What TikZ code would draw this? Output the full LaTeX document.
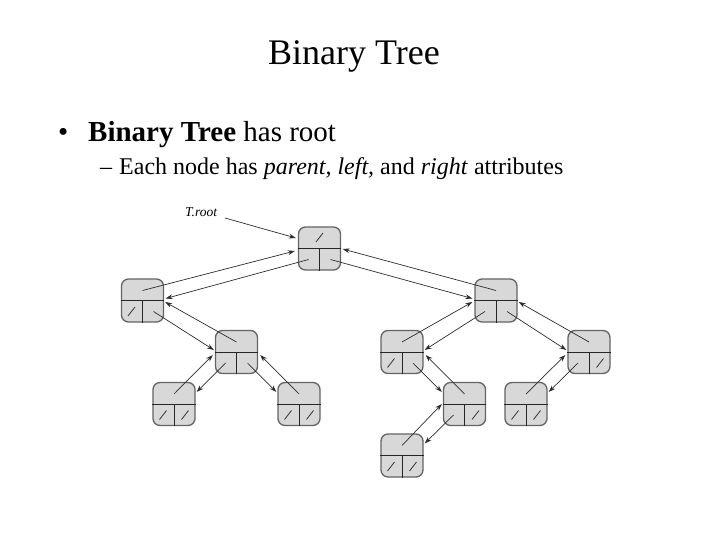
\documentclass[tikz,border=0pt]{standalone}
\usepackage{fontspec}
\setmainfont{Liberation Serif}
\usetikzlibrary{arrows.meta,calc}
\definecolor{nodefill}{RGB}{216,216,216}
\definecolor{nodeborder}{RGB}{100,100,100}
\definecolor{ptrcol}{RGB}{45,45,45}
\newcommand\nilat[1]{\draw[nilline] ($(#1)+(-3.5,4.5)$) -- ($(#1)+(3.5,-4.5)$);}
\begin{document}
\begin{tikzpicture}[x=1pt,y=-1pt,
  tnode/.style={draw=nodeborder, fill=nodefill, line width=1.3pt, rounded corners=7pt,
    minimum width=42pt, minimum height=43pt, inner sep=0pt},
  divider/.style={draw=black!85, line width=0.9pt},
  ptr/.style={draw=ptrcol, line width=0.7pt, -{Stealth[length=7pt,width=4.8pt]}},
  nilline/.style={draw=black!80, line width=0.8pt},
  txt/.style={inner sep=0pt, anchor=base west}]
\useasboundingbox (0,0) rectangle (720,540);

% texts
\node[inner sep=0pt, anchor=base, font=\fontsize{36}{40}\selectfont] (title) at (354,65) {Binary Tree};
\node[txt, font=\fontsize{29}{32}\selectfont] (bul) at (58,142) {\textbullet};
\node[txt, font=\fontsize{29}{32}\selectfont] (l1) at (88,142) {\textbf{Binary Tree} has root};
\node[txt, font=\fontsize{24}{28}\selectfont] (dash) at (100,175) {–};
\node[txt, font=\fontsize{24}{28}\selectfont] (l2) at (119,175) {Each node has \textit{parent, left,} and \textit{right} attributes};
\node[txt, font=\itshape\fontsize{13.5}{15}\selectfont] (tlabel) at (185,216) {T.root};
\coordinate (tr) at (225,218);

% tree nodes
\foreach \n/\x/\y in {R/319.5/248.5, A/142.5/300.5, B/236.5/352, C/174/404, D/299/404,
  E/496/300.5, F/402/352, G/589/352, H/464.5/404, I/526/404, J/402/455.5} {
  \node[tnode] (\n) at (\x,\y) {};
  \draw[divider] (\n.west) -- (\n.east) (\n.center) -- (\n.south);
  \coordinate (\n-u) at ($(\n)+(0,-10)$);
  \coordinate (\n-l) at ($(\n)+(-11,11)$);
  \coordinate (\n-r) at ($(\n)+(11,11)$);
}

% nil marks
\nilat{$(R)+(0,-11)$}
\nilat{A-l}
\nilat{C-l}\nilat{C-r}
\nilat{D-l}\nilat{D-r}
\nilat{F-l}
\nilat{G-r}
\nilat{H-r}
\nilat{I-l}\nilat{I-r}
\nilat{J-l}\nilat{J-r}

% pointers
\draw[ptr] (tr) -- ([shift={(-2,-10.5)}]R.west);
\draw[ptr] (R-l) -- ([shift={(1.5,-2)}]A.east);
\draw[ptr] (A-u) -- ([shift={(-3,2.5)}]R.west);
\draw[ptr] (R-r) -- ([shift={(-2,-2)}]E.west);
\draw[ptr] (E-u) -- ([shift={(1.5,0.5)}]R.east);
\draw[ptr] (A-r) -- ([shift={(-1,-2)}]B.west);
\draw[ptr] (B-u) -- ([shift={(1,1.5)}]A.east);
\draw[ptr] (B-l) -- ([shift={(1,-12)}]C.east);
\draw[ptr] (C-u) -- ([shift={(-2,3)}]B.west);
\draw[ptr] (B-r) -- ([shift={(-1,-12)}]D.west);
\draw[ptr] (D-u) -- ([shift={(2,3)}]B.east);
\draw[ptr] (E-l) -- ([shift={(1,-2)}]F.east);
\draw[ptr] (F-u) -- ([shift={(-2,1.5)}]E.west);
\draw[ptr] (E-r) -- ([shift={(-1,-2)}]G.west);
\draw[ptr] (G-u) -- ([shift={(1,1.5)}]E.east);
\draw[ptr] (F-r) -- ([shift={(-1,-12)}]H.west);
\draw[ptr] (H-u) -- ([shift={(2,3)}]F.east);
\draw[ptr] (G-l) -- ([shift={(1,-12)}]I.east);
\draw[ptr] (I-u) -- ([shift={(-2,3)}]G.west);
\draw[ptr] (H-l) -- ([shift={(1,-12)}]J.east);
\draw[ptr] (J-u) -- ([shift={(-1,0)}]H.west);
\end{tikzpicture}
\end{document}
